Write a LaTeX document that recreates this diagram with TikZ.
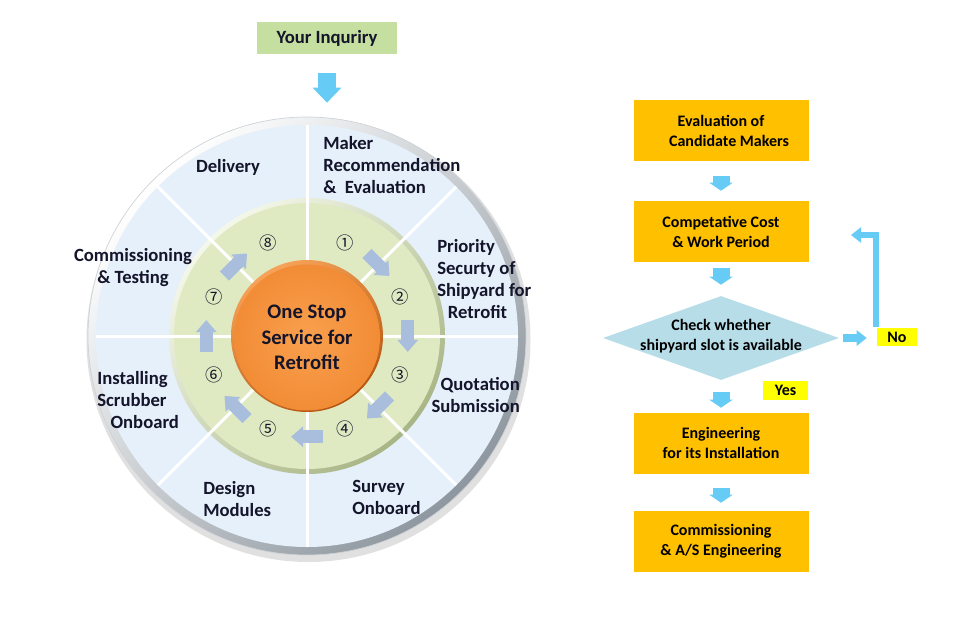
\documentclass[tikz,border=0pt]{standalone}
\usepackage{fontspec}
\setmainfont{Carlito}
\newfontfamily\cjkfont{Noto Sans CJK SC}
\usetikzlibrary{shapes.geometric,arrows.meta,calc}

\definecolor{txt}{HTML}{14142A}
\definecolor{inqgreen}{HTML}{C4DF9F}
\definecolor{arrowcyan}{HTML}{66CCF5}
\definecolor{boxorange}{HTML}{FFC000}
\definecolor{diamblue}{HTML}{B7DDE8}
\definecolor{yellowlbl}{HTML}{FFFF00}
\definecolor{outerfill}{HTML}{E6F0FB}
\definecolor{rimgray}{HTML}{8E979F}
\definecolor{rimline}{HTML}{CDD2D7}
\definecolor{greenfill}{HTML}{DFEAC3}
\definecolor{greenhi}{HTML}{F4F8EA}
\definecolor{greenlo}{HTML}{A8B585}
\definecolor{orangehi}{HTML}{F6A258}
\definecolor{orangelo}{HTML}{B5560F}
\definecolor{orangein}{HTML}{F9A04E}
\definecolor{orangeout}{HTML}{F28C36}
\definecolor{stepblue}{HTML}{A9BEDD}

\tikzset{
  lbl/.style={font=\fontsize{14}{16.5}\selectfont\bfseries, text=txt, inner sep=0pt},
  num/.style={font=\cjkfont\fontsize{13}{13}\selectfont, text=txt, inner sep=0pt},
  flowbox/.style={fill=boxorange, minimum width=131.25pt, minimum height=45.75pt, inner sep=0pt,
    align=center, font=\fontsize{12}{15}\selectfont\bfseries, text=black},
  tag/.style={fill=yellowlbl, inner sep=0pt, font=\fontsize{12}{15}\selectfont\bfseries, text=black},
  inqarrow/.style={draw=arrowcyan, line width=13.5pt, -{Triangle[length=11.25pt,width=21pt]}},
  cyanarrow/.style={draw=arrowcyan, line width=12.75pt, -{Triangle[length=6pt,width=17.25pt]}},
  noarrow/.style={draw=arrowcyan, line width=6pt, -{Triangle[length=7.5pt,width=11.25pt]}},
  retarrow/.style={draw=arrowcyan, line width=4.5pt, line join=miter, -{Triangle[length=7.5pt,width=11.25pt]}},
  steparrow/.style={draw=stepblue, line width=9.75pt, -{Triangle[length=9pt,width=15pt]}},
  spoke/.style={draw=white, line width=2.25pt},
}

\begin{document}
\begin{tikzpicture}[x=0.75pt,y=-0.75pt]
\fill[white] (0,0) rectangle (959,623);
\useasboundingbox (0,0) rectangle (959,623);

% ---------- inquiry ----------
\node[fill=inqgreen, minimum width=105pt, minimum height=24pt, inner sep=0pt,
      font=\fontsize{14}{16}\selectfont\bfseries, text=txt] (inq) at (327,38) {Your Inquriry};

% ---------- circle ----------
\begin{scope}[shift={(307,336)}, x=0.75pt, y=0.75pt]
  \fill[black, opacity=0.12] (1.5,-4) circle (166.5pt);
  \node[circle, minimum size=328.5pt, inner sep=0pt, draw=rimline, line width=0.5pt,
        top color=white, bottom color=rimgray, shading angle=45] (ring) at (0,0) {};
  \fill[outerfill] (0,0) circle (158.25pt);
  \node[circle, minimum size=207pt, inner sep=0pt, top color=greenhi, bottom color=greenlo, shading angle=45] (gring) at (0,0) {};
  \fill[greenfill] (0,0) circle (99.75pt);
  \foreach \a in {0,45,...,315} \draw[spoke] (\a:74) -- (\a:211);
  \foreach \i/\a in {1/45,2/0,3/-45,4/-90,5/-135,6/180,7/135} {
    \coordinate (s\i) at ({\a+9}:102);
    \coordinate (e\i) at ({\a-9}:102);
    \draw[steparrow] (s\i) -- (e\i);
  }
  \foreach \i/\a/\g in {1/67.5/①,2/22.5/②,3/-22.5/③,4/-67.5/④,5/-112.5/⑤,6/-157.5/⑥,7/157.5/⑦,8/112.5/⑧}
    \node[num] (n\i) at (\a:101) {\g};
  \node[circle, minimum size=114pt, inner sep=0pt, top color=orangehi, bottom color=orangelo, shading angle=30] (corerim) at (0,0) {};
  \node[circle, minimum size=109.5pt, inner sep=0pt, inner color=orangein, outer color=orangeout,
        font=\fontsize{15.5}{19}\selectfont\bfseries, text=txt, align=center] (core) at (0,-1.5) {One Stop\\Service for\\Retrofit};
\end{scope}

\draw[inqarrow, shorten <=14.25pt, shorten >=10.5pt] (inq.south) -- (inq.south |- ring.north);

% ---------- sector labels ----------
\node[lbl, align=left, anchor=west] (lmaker) at (323,165.5) {Maker\\Recommendation\\\&\ \ Evaluation};
\node[lbl, align=left, anchor=west] (lprio) at (437,279.5) {Priority\\Securty of\\Shipyard for\\\hspace{8pt}Retrofit};
\node[lbl, align=right, anchor=east] (lquot) at (520,395.5) {Quotation\\Submission};
\node[lbl, align=left, anchor=west] (lsurv) at (352,497) {Survey\\Onboard};
\node[lbl, align=left, anchor=west] (ldes) at (203,499) {Design\\Modules};
\node[lbl, align=left, anchor=west] (linst) at (97,400) {Installing\\Scrubber\\\hspace{10pt}Onboard};
\node[lbl, align=center] (lcomm) at (133,267.5) {Commissioning\\\& Testing};
\node[lbl] (ldel) at (228,167) {Delivery};

% ---------- flowchart ----------
\node[flowbox] (b1) at (721,130.5) {Evaluation of\\\hspace{12pt}Candidate Makers};
\node[flowbox] (b2) at (721,231.5) {Competative Cost\\\& Work Period};
\node[diamond, fill=diamblue, minimum width=177pt, minimum height=63pt, inner sep=0pt] (dia) at (721,338) {};
\node[font=\fontsize{12}{15}\selectfont\bfseries, text=black, align=center, inner sep=0pt] (diatext) at (721,336) {Check whether\\shipyard slot is available};
\node[flowbox] (b3) at (721,443) {Engineering\\for its Installation};
\node[flowbox] (b4) at (721,541.5) {Commissioning\\\& A/S Engineering};

\node[tag, minimum width=30pt, minimum height=13.5pt] (no) at (897,337) {No};
\node[tag, minimum width=33.75pt, minimum height=14.25pt] (yes) at (785.5,390.5) {Yes};

\draw[cyanarrow, shorten <=11.25pt, shorten >=7.5pt] (b1) -- (b2);
\draw[cyanarrow, shorten <=4.5pt, shorten >=8.25pt] (b2.south) -- (dia.north);
\draw[cyanarrow, shorten <=9pt, shorten >=3.4pt] (dia.south) -- (b3.north);
\draw[cyanarrow, shorten <=10.9pt, shorten >=6pt] (b3) -- (b4);

\draw[noarrow, shorten <=3pt, shorten >=7.5pt] (dia.east) -- (dia.east -| no.west);
\coordinate (retA) at (876,327);
\coordinate (retB) at (851,235);
\draw[retarrow] (retA) |- (retB);
\end{tikzpicture}
\end{document}
